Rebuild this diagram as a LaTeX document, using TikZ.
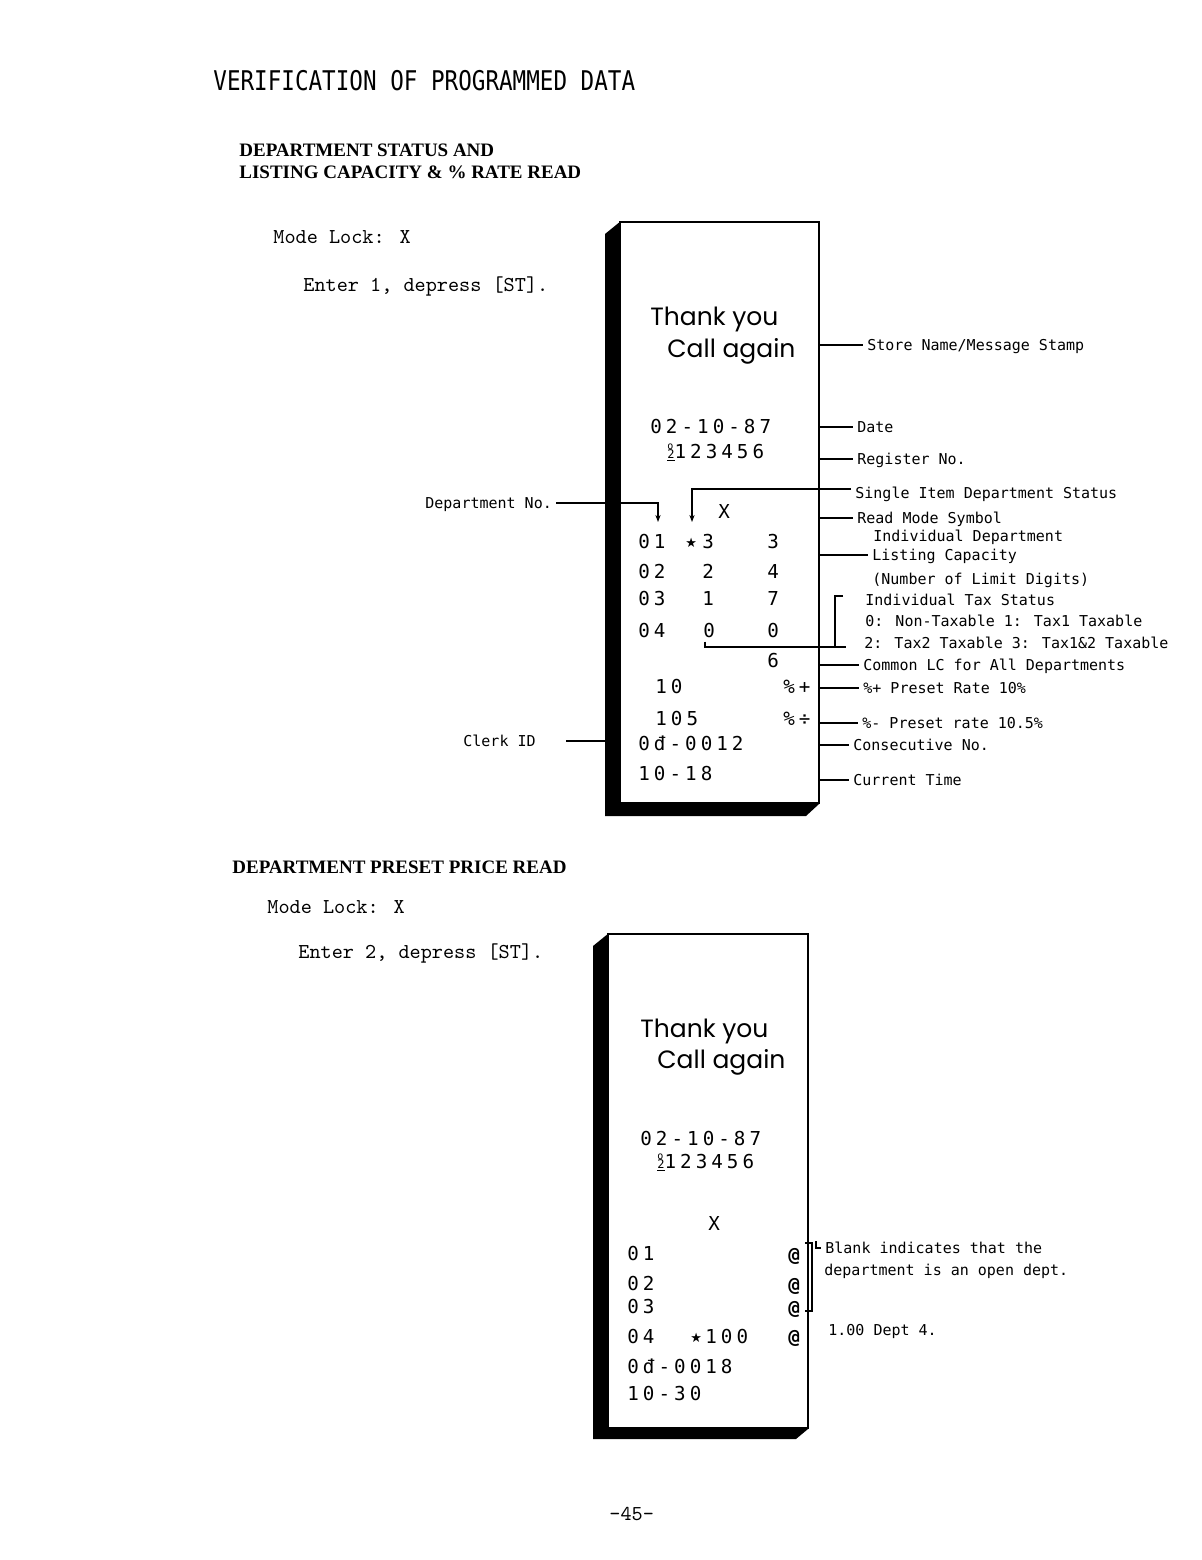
\documentclass[tikz,border=0pt]{standalone}
\usepackage{fontspec}
\usepackage{tikz}
\usetikzlibrary{arrows.meta,positioning,calc}
\newfontfamily\dotfont{DejaVu Sans Mono}
\newfontfamily\slipfont[LetterSpace=21]{DejaVu Sans Mono}
\newfontfamily\headfont{Liberation Serif}
\newfontfamily\stampfont{Poppins}
\newfontfamily\symfont{DejaVu Sans}
\newcommand{\regsym}{\ooalign{\raisebox{0.45em}{\fontsize{5}{5}\selectfont o}\cr\fontsize{6}{6}\selectfont\underline{2}}}

\tikzset{
  note/.style={font=\dotfont\fontsize{7.5}{8}\selectfont, anchor=base west,
    inner xsep=2pt, inner ysep=0pt, text height=5.5pt, text depth=0.5pt},
  slip/.style={font=\slipfont\fontsize{9.6}{10}\selectfont, anchor=base west, inner sep=0pt},
  stamp/.style={font=\stampfont\fontsize{12.5}{13}\selectfont, anchor=base west, inner sep=0pt},
  typed/.style={font=\ttfamily\fontsize{10.6}{11}\selectfont, anchor=base west, inner sep=0pt},
  heading/.style={font=\headfont\bfseries\fontsize{9.5}{10}\selectfont, anchor=base west, inner sep=0pt},
  starmark/.style={font=\symfont\fontsize{6.5}{7}\selectfont, anchor=base west, inner sep=0pt},
  lead/.style={line width=0.9pt},
  pointer/.style={-{Stealth[length=3.5pt,width=2.6pt]}},
  sheet/.style={draw, fill=white, line width=1.4pt},
}

\begin{document}
\begin{tikzpicture}[x=0.5pt,y=-0.5pt]
\useasboundingbox (0,0) rectangle (1202,1560);
\fill[white] (0,0) rectangle (1202,1560);

% page headings
\node[anchor=base west, inner sep=0pt, font=\dotfont\fontsize{11.3}{12}\selectfont] (title) at (213,90) {\scalebox{1}[1.2]{VERIFICATION OF PROGRAMMED DATA}};
\node[heading] (headA1) at (239,156) {DEPARTMENT STATUS AND};
\node[heading] (headA2) at (239,178) {LISTING CAPACITY \& \% RATE READ};
\node[typed] (lockA) at (273,243) {Mode Lock: X};
\node[typed] (enterA) at (303,291) {Enter 1, depress [ST].};

% first slip
\fill (605,234) -- (621,221) -- (621,804) -- (819,804) -- (806,816) -- (605,816) -- cycle;
\draw[sheet] (620,222) rectangle (819,803);
\coordinate (edgeA) at (819,0);
\coordinate (backA) at (605,0);

\node[stamp] (thankA) at (650,325) {Thank you};
\node[stamp] (callA) at (667,357) {Call again};
\node[slip] (dateA) at (650,433) {02-10-87};
\node[slip] (regA) at (667,458) {\regsym123456};
\node[slip] (modeA) at (718,518) {X};
\node[slip] (d01) at (638,548) {01};
\node[starmark] (star01) at (685,547) {★};
\node[slip] (stat01) at (702,548) {3};
\node[slip] (lc01) at (767,548) {3};
\node[slip] (d02) at (638,578) {02};
\node[slip] (stat02) at (702,578) {2};
\node[slip] (lc02) at (767,578) {4};
\node[slip] (d03) at (638,605) {03};
\node[slip] (stat03) at (702,605) {1};
\node[slip] (lc03) at (767,605) {7};
\node[slip] (d04) at (638,637) {04};
\node[slip] (stat04) at (703,637) {0};
\node[slip] (lc04) at (767,637) {0};
\node[slip] (lcall) at (767,667) {6};
\node[slip] (rateA) at (655,693) {10};
\node[slip] (keyA) at (783,693) {\%+};
\node[slip] (rateB) at (655,725) {105};
\node[slip] (keyB) at (783,725) {\%÷};
\node[slip] (clerkA) at (638,750) {0đ-0012};
\node[slip] (timeA) at (638,780) {10-18};

% notes of the first slip
\node[note] (store) at (863,350) {Store Name/Message Stamp};
\node[note] (date) at (853,432) {Date};
\node[note] (regno) at (853,464) {Register No.};
\node[note] (single) at (851,498) {Single Item Department Status};
\node[note] (readmode) at (853,523) {Read Mode Symbol};
\node[note] (lcA) at (869,541) {Individual Department};
\node[note] (lcB) at (868,560) {Listing Capacity};
\node[note] (lcC) at (868,584) {(Number of Limit Digits)};
\node[note] (taxA) at (861,605) {Individual Tax Status};
\node[note] (taxB) at (861,626) {0: Non-Taxable 1: Tax1 Taxable};
\node[note] (taxC) at (860,648) {2: Tax2 Taxable 3: Tax1\&2 Taxable};
\node[note] (common) at (859,670) {Common LC for All Departments};
\node[note] (plus) at (859,693) {\%+ Preset Rate 10\%};
\node[note] (minus) at (858,728) {\%- Preset rate 10.5\%};
\node[note] (consec) at (849,750) {Consecutive No.};
\node[note] (curtime) at (849,785) {Current Time};
\node[note] (deptno) at (421,508) {Department No.};
\node[note] (clerk) at (459,746) {Clerk ID};

\foreach \lbl in {store,date,regno,readmode,lcB,common,plus,minus,consec,curtime}
  \draw[lead] (edgeA |- \lbl.west) -- (\lbl.west);
\coordinate (deptTip) at (658,522);
\coordinate (singleTip) at (692,522);
\draw[lead,pointer] (deptno.east) -| (deptTip);
\draw[lead,pointer] ([yshift=2pt]single.west) -| (singleTip);
\draw[lead] (backA |- clerk.east) -- ([xshift=13pt]clerk.east);
\coordinate (taxtop) at (843,596);
\coordinate (taxfoot) at (846,647);
\draw[lead] (taxtop) -- ++(-8,0) |- (taxfoot);
\draw[lead] ([xshift=1pt,yshift=-2pt]stat04.south west) |- (taxfoot);

% second section
\node[heading] (headB) at (232,873) {DEPARTMENT PRESET PRICE READ};
\node[typed] (lockB) at (267,913) {Mode Lock: X};
\node[typed] (enterB) at (298,958) {Enter 2, depress [ST].};

% second slip
\fill (593,946) -- (609,933) -- (609,1429) -- (808,1429) -- (796,1439) -- (593,1439) -- cycle;
\draw[sheet] (608,934) rectangle (808,1428);
\coordinate (edgeB) at (808,0);

\node[stamp] (thankB) at (640,1037) {Thank you};
\node[stamp] (callB) at (657,1068) {Call again};
\node[slip] (dateB) at (640,1145) {02-10-87};
\node[slip] (regB) at (657,1168) {\regsym123456};
\node[slip] (modeB) at (708,1230) {X};
\node[slip] (p01) at (627,1260) {01};
\node[slip] (p02) at (627,1290) {02};
\node[slip] (p03) at (627,1313) {03};
\node[slip] (p04) at (627,1343) {04};
\node[slip, font=\slipfont\bfseries\fontsize{9.6}{10}\selectfont] (at01) at (788,1261) {@};
\node[slip, font=\slipfont\bfseries\fontsize{9.6}{10}\selectfont] (at02) at (788,1291) {@};
\node[slip, font=\slipfont\bfseries\fontsize{9.6}{10}\selectfont] (at03) at (788,1314) {@};
\node[slip, font=\slipfont\bfseries\fontsize{9.6}{10}\selectfont] (at04) at (788,1343) {@};
\node[starmark] (star04) at (690,1342) {★};
\node[slip] (price04) at (705,1343) {100};
\node[slip] (clerkB) at (627,1373) {0đ-0018};
\node[slip] (timeB) at (627,1400) {10-30};

% notes of the second slip
\node[note] (blank) at (821,1253) {Blank indicates that the};
\node[note] (opendept) at (820,1275) {department is an open dept.};
\node[note] (dept4) at (824,1335) {1.00 Dept 4.};
\draw[lead] (805,1243) -- (812,1243) -- (812,1311) -- (805,1311);
\draw[lead] (816,1241) |- (blank.west);

\node[typed] (pageno) at (609,1520) {-45-};
\end{tikzpicture}
\end{document}
